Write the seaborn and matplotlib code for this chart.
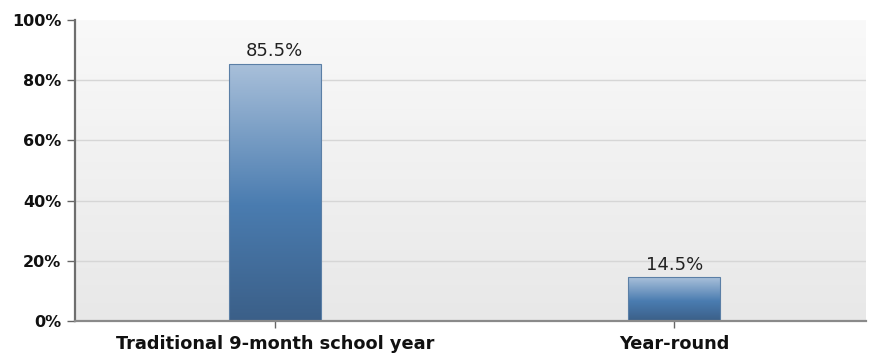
import numpy as np
import pandas as pd
import matplotlib
matplotlib.use("Agg")
import matplotlib.pyplot as plt
from matplotlib.colors import LinearSegmentedColormap
import seaborn as sns

categories = ["Traditional 9-month school year", "Year-round"]
shares = [85.5, 14.5]
y_ticks = [0, 20, 40, 60, 80, 100]
y_tick_labels = ["0%", "20%", "40%", "60%", "80%", "100%"]

df = pd.DataFrame({"category": categories, "share": shares})

sns.set_theme(style="white")
plt.rcParams["font.family"] = ["DejaVu Sans"]

fig = plt.figure(figsize=(8.69, 3.58), dpi=100)
ax = fig.add_axes([75 / 869, 37 / 358, 791 / 869, 301 / 358])

sns.barplot(data=df, x="category", y="share", ax=ax, width=0.23,
            color="#4a7aad", edgecolor="none", linewidth=0, zorder=3)

ax.set_ylim(0, 100)
ax.set_xlim(-0.5, 1.48)

# vertical gradient background of the plotting area
bg = LinearSegmentedColormap.from_list("bg", ["#e8e8e8", "#f9f9f9"])
grad = np.linspace(0, 1, 256).reshape(-1, 1)
ax.imshow(grad, cmap=bg, aspect="auto", origin="lower",
          extent=[-0.5, 1.48, 0, 100], zorder=0)

# gridlines
for t in y_ticks[1:-1]:
    ax.axhline(t, color="#d6d6d6", linewidth=1, zorder=1)

# gradient fill for each bar, clipped to the bar shape
bar_cmap = LinearSegmentedColormap.from_list(
    "bar", [(0.0, "#3b5f88"), (0.45, "#4a7cb0"), (1.0, "#a9c0da")])
for patch, val in zip(ax.patches, shares):
    x0 = patch.get_x()
    w = patch.get_width()
    patch.set_facecolor("none")
    im = ax.imshow(grad, cmap=bar_cmap, aspect="auto", origin="lower",
                   extent=[x0, x0 + w, 0, val], zorder=3)
    im.set_clip_path(patch)
    ax.add_patch(plt.Rectangle((x0, 0), w, val, fill=False,
                               edgecolor="#5b7fa6", linewidth=0.8, zorder=4))
    ax.text(x0 + w / 2, val + 1.2, f"{val}%", ha="center", va="bottom",
            fontsize=13, color="#222222", zorder=5)

ax.set_yticks(y_ticks)
ax.set_yticklabels(y_tick_labels, fontsize=11.5, fontweight="bold", color="#111111")
ax.set_xticks(range(len(categories)))
ax.set_xticklabels(categories, fontsize=12.8, fontweight="bold", color="#111111")
ax.set_xlabel("")
ax.set_ylabel("")

ax.tick_params(axis="y", direction="out", length=6, width=1, color="#666666",
               left=True, pad=4)
ax.tick_params(axis="x", direction="out", length=5, width=1, color="#666666",
               bottom=True, pad=5)

for side in ["top", "right"]:
    ax.spines[side].set_visible(False)
ax.spines["left"].set_color("#6e6e6e")
ax.spines["left"].set_linewidth(1.6)
ax.spines["bottom"].set_color("#8a8a8a")
ax.spines["bottom"].set_linewidth(1.6)
ax.spines["left"].set_zorder(6)
ax.spines["bottom"].set_zorder(6)

fig.savefig("out.png", dpi=100, facecolor="white")
